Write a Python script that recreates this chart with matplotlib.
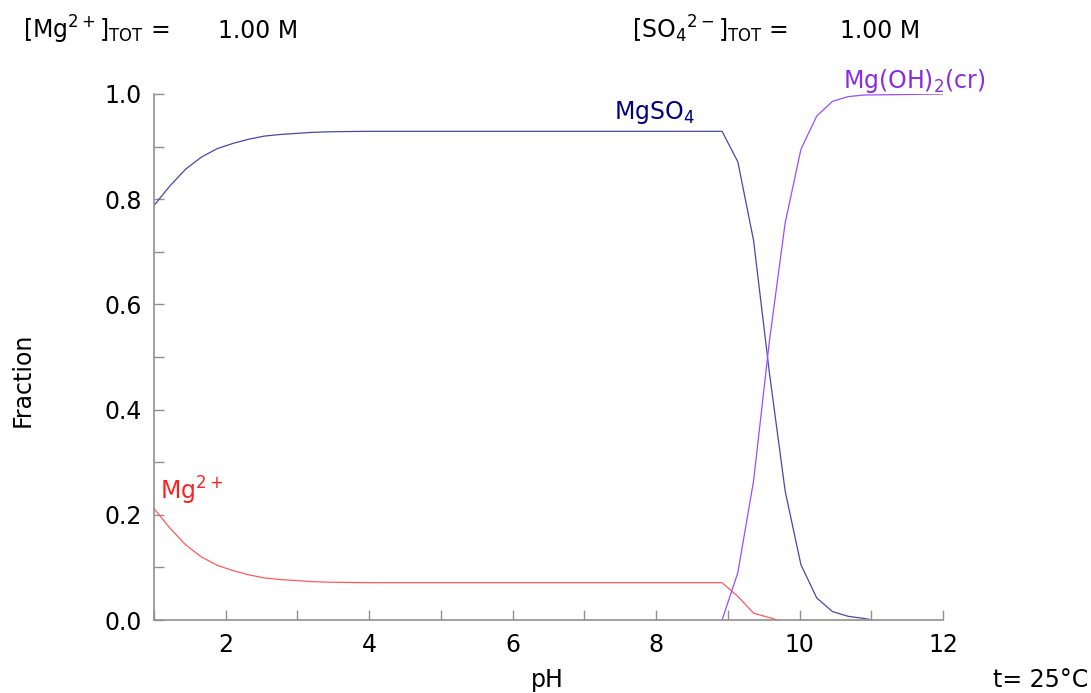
import matplotlib
matplotlib.use("Agg")
from matplotlib import pyplot as plt
from matplotlib.ticker import MultipleLocator

plt.rcParams['font.family'] = ['DejaVu Sans']
plt.rcParams['mathtext.fontset'] = 'dejavusans'
plt.rcParams['mathtext.default'] = 'regular'

ph_mgso4 = [1.0, 1.22, 1.44, 1.66, 1.88, 2.1, 2.32, 2.54, 2.76, 2.98, 3.2, 3.42, 3.64, 4.0,
            8.92, 9.14, 9.36, 9.58, 9.80, 10.02, 10.24, 10.46, 10.68, 10.90, 10.98]
mgso4 = [0.788, 0.825, 0.857, 0.880, 0.896, 0.906, 0.914, 0.920, 0.923, 0.925, 0.927, 0.928, 0.9285, 0.929,
         0.929, 0.871, 0.721, 0.470, 0.245, 0.105, 0.042, 0.016, 0.007, 0.003, 0.001]

ph_mg = [1.0, 1.22, 1.44, 1.66, 1.88, 2.1, 2.32, 2.54, 2.76, 2.98, 3.2, 3.42, 3.64, 4.0,
         8.92, 9.14, 9.36, 9.70]
mg = [0.212, 0.175, 0.143, 0.120, 0.104, 0.094, 0.086, 0.080, 0.077, 0.075, 0.073, 0.072, 0.0715, 0.071,
      0.071, 0.045, 0.013, 0.0]

ph_mgoh2 = [8.92, 9.14, 9.36, 9.58, 9.80, 10.02, 10.24, 10.46, 10.68, 10.90, 11.5, 12.0]
mgoh2 = [0.0, 0.09, 0.265, 0.53, 0.755, 0.895, 0.958, 0.986, 0.995, 0.998, 0.999, 1.0]

fig = plt.figure(figsize=(10.91, 6.93), dpi=100)
ax = fig.add_axes([0.1412, 0.1053, 0.7231, 0.7591])

ax.plot(ph_mgso4, mgso4, color='#4848a8', lw=0.9)
ax.plot(ph_mg, mg, color='#ff5a5a', lw=0.9)
ax.plot(ph_mgoh2, mgoh2, color='#9b4dff', lw=0.9)

ax.set_xlim(1, 12)
ax.set_ylim(0, 1)
ax.xaxis.set_major_locator(MultipleLocator(2))
ax.xaxis.set_minor_locator(MultipleLocator(1))
ax.yaxis.set_major_locator(MultipleLocator(0.2))
ax.yaxis.set_minor_locator(MultipleLocator(0.1))
ax.yaxis.set_major_formatter(plt.FuncFormatter(lambda v, p: f"{v:.1f}"))

for s in ['top', 'right']:
    ax.spines[s].set_visible(False)
for s in ['left', 'bottom']:
    ax.spines[s].set_color('#909090')
    ax.spines[s].set_linewidth(1.2)

ax.tick_params(which='both', direction='in', length=7, width=1, color='#909090', labelsize=17)
ax.tick_params(axis='y', which='both', pad=9)
ax.tick_params(axis='x', which='both', pad=9)

ax.text(7.42, 0.953, r'MgSO$_4$', color='#000080', fontsize=17)
ax.text(10.6, 1.011, r'Mg(OH)$_2$(cr)', color='#8a2be2', fontsize=17, clip_on=False)
ax.text(1.08, 0.228, r'Mg$^{2+}$', color='#ff2020', fontsize=17)

fig.text(0.0215, 0.945, r'[Mg$^{2+}$]$_{TOT}$ =', fontsize=17)
fig.text(0.2, 0.945, '1.00 M', fontsize=17)
fig.text(0.579, 0.945, r'[SO$_4$$^{2-}$]$_{TOT}$ =', fontsize=17)
fig.text(0.770, 0.945, '1.00 M', fontsize=17)

fig.text(0.021, 1 - 380 / 693, 'Fraction', rotation=90, fontsize=17, ha='center', va='center')
fig.text(547 / 1091, 1 - 680 / 693, 'pH', fontsize=17, ha='center', va='center')
fig.text(1088 / 1091, 1 - 687 / 693, 't= 25°C', fontsize=17, ha='right', va='baseline')

fig.savefig('out.png', dpi=100)
